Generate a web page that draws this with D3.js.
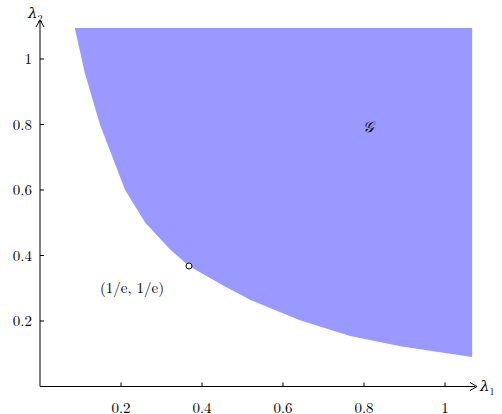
<!DOCTYPE html>
<html><head><meta charset="utf-8">
<script src="https://cdn.jsdelivr.net/npm/d3@7"></script>
<style>body{margin:0;background:#fff}text{font-family:"Latin Modern Roman","DejaVu Serif",serif;font-size:15px}</style>
</head><body><svg id="c" width="502" height="414"></svg>
<script>
// boundary of region G
const boundaryX = [0.086, 0.11, 0.148, 0.21, 0.26, 0.32, 0.368, 0.45, 0.52, 0.64, 0.766, 0.89, 1.0, 1.067];
const boundaryY = [1.095, 0.96, 0.8, 0.6, 0.5, 0.42, 0.368, 0.31, 0.264, 0.203, 0.154, 0.123, 0.102, 0.09];
const xTicks = [0.2, 0.4, 0.6, 0.8, 1];
const yTicks = [0.2, 0.4, 0.6, 0.8, 1];
const point = [1 / Math.E, 1 / Math.E];

const svg = d3.select('#c');
const x = d3.scaleLinear().domain([0, 1]).range([40, 445]);
const y = d3.scaleLinear().domain([0, 1]).range([386.5, 59]);

const yTop = 1.095, xRight = 1.067;
const pts = boundaryX.map((v, i) => [v, boundaryY[i]]);
const area = pts.concat([[xRight, yTop]]);
svg.append('path')
    .attr('d', d3.line().x(d => x(d[0])).y(d => y(d[1])).curve(d3.curveLinear)(area) + 'Z')
    .attr('fill', '#9999ff');

// axes
const ax = svg.append('g').attr('stroke', '#000').attr('fill', 'none');
ax.append('path').attr('d', `M${x(0)},${y(0)}H${x(0) + 435}`);
ax.append('path').attr('d', `M${x(0)},${y(0)}V22`);
ax.append('path').attr('d', `M${x(0) + 430},${y(0) - 4}L${x(0) + 437},${y(0)}L${x(0) + 430},${y(0) + 4}`);
ax.append('path').attr('d', `M${x(0) - 4},27L${x(0)},20L${x(0) + 4},27`);
xTicks.forEach(t => {
    ax.append('path').attr('d', `M${x(t)},${y(0)}v-4`);
    svg.append('text').attr('x', x(t)).attr('y', 413).attr('text-anchor', 'middle').text(t);
});
yTicks.forEach(t => {
    ax.append('path').attr('d', `M${x(0)},${y(t)}h4`);
    svg.append('text').attr('x', x(0) - 8).attr('y', y(t) + 5).attr('text-anchor', 'end').text(t);
});
svg.append('text').attr('x', 480).attr('y', 391).attr('font-style', 'italic').text('λ').append('tspan').attr('font-size', '10px').attr('font-style', 'normal').attr('dy', 4).text('1');
svg.append('text').attr('x', 28).attr('y', 18).attr('font-style', 'italic').text('λ').append('tspan').attr('font-size', '10px').attr('font-style', 'normal').attr('dy', 4).text('2');
svg.append('text').attr('x', 368).attr('y', 132).attr('text-anchor', 'middle').attr('font-style', 'italic').attr('font-size', '17px').text('𝒢');

svg.append('circle').attr('cx', x(point[0])).attr('cy', y(point[1])).attr('r', 3)
    .attr('fill', '#fff').attr('stroke', '#000');
svg.append('text').attr('x', 132).attr('y', 293).attr('text-anchor', 'middle').text('(1/e, 1/e)');
</script></body></html>
